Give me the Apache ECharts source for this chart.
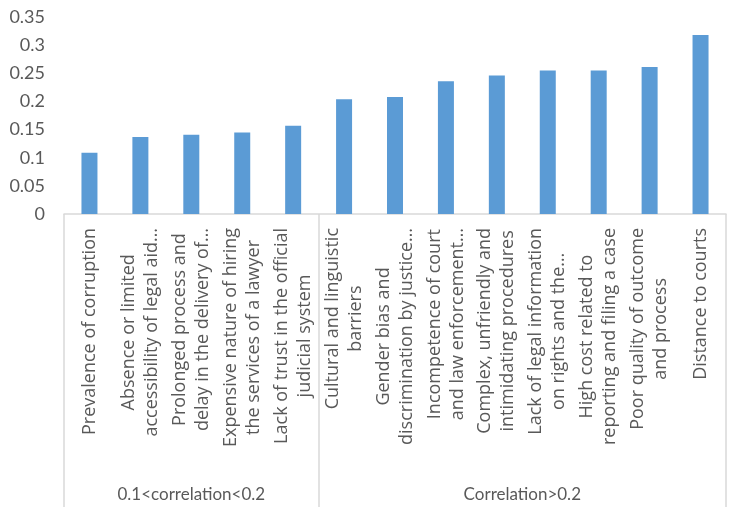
<!DOCTYPE html>
<html>
<head>
<meta charset="utf-8">
<script src="https://cdn.jsdelivr.net/npm/echarts@6/dist/echarts.min.js"></script>
<style>
  html, body { margin: 0; padding: 0; background: #fff; }
  #chart { width: 732px; height: 507px; }
</style>
</head>
<body>
<div id="chart"></div>
<script>
// Barriers to justice, ordered by correlation strength
const categories = [
  'Prevalence of corruption',
  'Absence or limited\naccessibility of legal aid…',
  'Prolonged process and\ndelay in the delivery of…',
  'Expensive nature of hiring\nthe services of a lawyer',
  'Lack of trust in the official\njudicial system',
  'Cultural and linguistic\nbarriers',
  'Gender bias and\ndiscrimination by justice…',
  'Incompetence of court\nand law enforcement…',
  'Complex, unfriendly and\nintimidating procedures',
  'Lack of legal information\non rights and the…',
  'High cost related to\nreporting and filing a case',
  'Poor quality of outcome\nand process',
  'Distance to courts'
];
const values = [0.109, 0.137, 0.141, 0.145, 0.157, 0.204, 0.208, 0.236, 0.246, 0.255, 0.255, 0.261, 0.318];

// Category groups: name and the index range [first, last] they cover
const groupNames = ['0.1<correlation<0.2', 'Correlation>0.2'];
const groupRanges = [[0, 4], [5, 12]];

const yTicks = [0, 0.05, 0.1, 0.15, 0.2, 0.25, 0.3, 0.35];

// Group boundaries and centres in category-index units
const groupEdges = [groupRanges[0][0] - 0.5].concat(groupRanges.map(r => r[1] + 0.5));
const groupCenters = groupRanges.map(r => (r[0] + r[1]) / 2);

const textColor = '#595959';
const lineColor = '#d9d9d9';
const font = 'Lato, "Open Sans", sans-serif';
const catFont = '"Open Sans", Lato, sans-serif';

const chart = echarts.init(document.getElementById('chart'));
chart.setOption({
  animation: false,
  grid: { left: 64, right: 6, top: 17, bottom: 293, containLabel: false },
  xAxis: [
    {
      type: 'category',
      data: categories,
      position: 'bottom',
      axisLine: { show: true, lineStyle: { color: lineColor, width: 1.5 } },
      axisTick: { show: false },
      axisLabel: {
        interval: 0,
        rotate: 90,
        margin: 14,
        color: textColor,
        fontFamily: catFont,
        fontSize: 18,
        lineHeight: 23,
        formatter: v => v.split('\n').map(s => '{c|' + s + '}').join('\n'),
        rich: {
          c: { align: 'center', color: textColor, fontFamily: catFont, fontSize: 18, lineHeight: 23 }
        }
      }
    },
    {
      type: 'value',
      position: 'bottom',
      min: groupEdges[0],
      max: groupEdges[groupEdges.length - 1],
      axisLine: { show: false },
      splitLine: { show: false },
      axisTick: {
        show: true,
        customValues: groupEdges,
        length: 295,
        lineStyle: { color: lineColor, width: 1.5 }
      },
      axisLabel: {
        customValues: groupCenters,
        margin: 272,
        color: textColor,
        fontFamily: font,
        fontSize: 17,
        formatter: v => {
          const i = groupCenters.indexOf(v);
          return i >= 0 ? groupNames[i] : '';
        }
      }
    }
  ],
  yAxis: {
    type: 'value',
    min: yTicks[0],
    max: yTicks[yTicks.length - 1],
    interval: 0.05,
    axisLine: { show: false },
    axisTick: { show: false },
    splitLine: { show: false },
    axisLabel: {
      margin: 19,
      color: textColor,
      fontFamily: font,
      fontSize: 18,
      formatter: v => String(+v.toFixed(2))
    }
  },
  series: [{
    type: 'bar',
    xAxisIndex: 0,
    data: values,
    barWidth: 16,
    itemStyle: { color: '#5b9bd5' }
  }]
});
</script>
</body>
</html>
